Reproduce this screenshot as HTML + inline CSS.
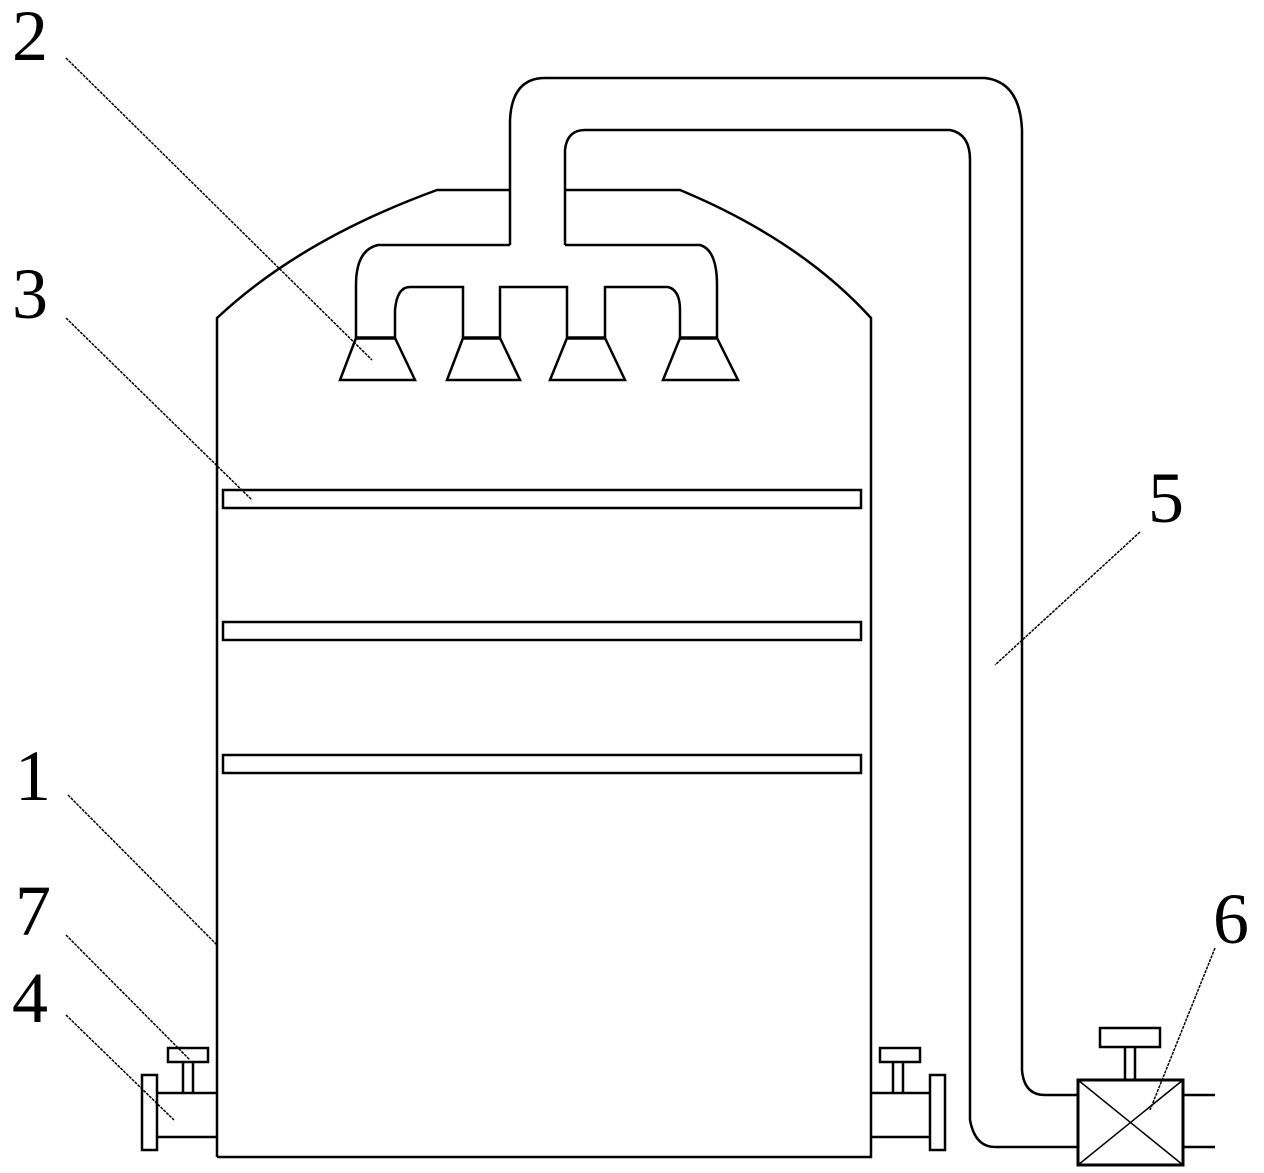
<!DOCTYPE html>
<html><head><style>
html,body{margin:0;padding:0;background:#fff;}
svg{display:block}
text{font-family:"Liberation Serif",serif;font-size:72px;fill:#000;}
</style></head><body>
<svg width="1264" height="1173" viewBox="0 0 1264 1173" xmlns="http://www.w3.org/2000/svg">
<g fill="none" stroke="#000" stroke-width="2.5">
<!-- tank -->
<path d="M217,1157 V318 Q300,240 437,190 H510"/>
<path d="M565,190 H680 Q800,240 871,318 V1157 H217"/>
<!-- outer pipe -->
<path d="M510,245 V120 Q512,78 545,78 H985 Q1020,82 1022,130 V1070 Q1024,1095 1045,1095 H1078"/>
<!-- inner pipe -->
<path d="M565,245 V150 Q567,130 585,130 H950 Q970,134 970,160 V1120 Q975,1147 995,1147 H1078"/>
<!-- manifold -->
<path d="M510,245 H378 Q356,250 356,285 V338"/>
<path d="M565,245 H700 Q717,250 717,285 V338"/>
<path d="M395,338 V310 Q397,287 410,287 H463 V338"/>
<path d="M500,338 V287 H567 V338"/>
<path d="M605,338 V287 H668 Q680,290 680,310 V338"/>
<path d="M356,338 H395 M463,338 H500 M567,338 H605 M680,338 H717" stroke-width="3.5"/>
<!-- nozzles -->
<path d="M356,338 L340,380 H415 L395,338"/>
<path d="M463,338 L447,380 H520 L500,338"/>
<path d="M567,338 L550,380 H625 L605,338"/>
<path d="M680,338 L663,380 H738 L717,338"/>
<!-- plates -->
<rect x="223" y="490" width="638" height="18"/>
<rect x="223" y="622" width="638" height="18"/>
<rect x="223" y="755" width="638" height="18"/>
<!-- left fitting -->
<rect x="142" y="1075" width="15" height="75"/>
<path d="M157,1093 H217 M157,1137 H217"/>
<path d="M183,1062 V1093 M193,1062 V1093"/>
<rect x="168" y="1048" width="40" height="14"/>
<!-- right fitting -->
<rect x="930" y="1075" width="15" height="75"/>
<path d="M871,1093 H930 M871,1137 H930"/>
<path d="M893,1062 V1093 M903,1062 V1093"/>
<rect x="880" y="1048" width="40" height="14"/>
<!-- valve -->
<rect x="1078" y="1080" width="105" height="85" stroke-width="3"/>
<path d="M1078,1080 L1183,1165 M1183,1080 L1078,1165" stroke-width="1.5"/>
<path d="M1125,1047 V1080 M1135,1047 V1080"/>
<rect x="1100" y="1028" width="60" height="19"/>
<path d="M1183,1095 H1215 M1183,1147 H1215"/>
</g>
<!-- leaders -->
<g stroke="#000" stroke-width="1.5" stroke-dasharray="3,1">
<line x1="66" y1="58" x2="372" y2="360"/>
<line x1="66" y1="318" x2="252" y2="500"/>
<line x1="1140" y1="532" x2="995" y2="665"/>
<line x1="68" y1="795" x2="217" y2="945"/>
<line x1="66" y1="935" x2="190" y2="1060"/>
<line x1="66" y1="1015" x2="174" y2="1120"/>
<line x1="1215" y1="948" x2="1150" y2="1110"/>
</g>
<text x="12" y="60">2</text>
<text x="12" y="318">3</text>
<text x="1148" y="522">5</text>
<text x="15" y="800">1</text>
<text x="15" y="935">7</text>
<text x="12" y="1022">4</text>
<text x="1213" y="943">6</text>
</svg>
</body></html>
